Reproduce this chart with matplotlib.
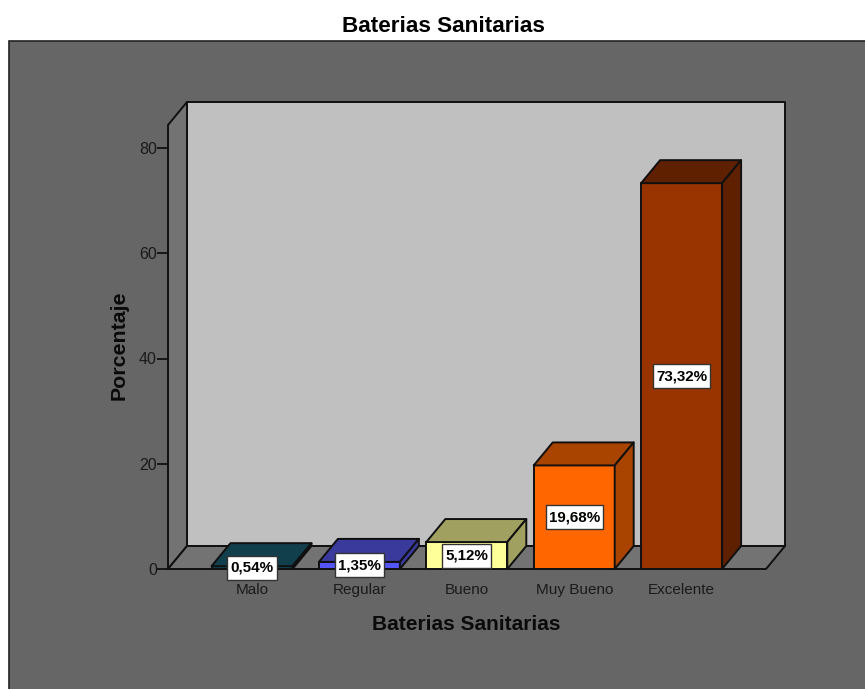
import matplotlib
matplotlib.use('Agg')
import matplotlib.pyplot as plt
from matplotlib.patches import Polygon, Rectangle
from matplotlib.path import Path

plt.rcParams['font.family'] = ['Liberation Sans', 'DejaVu Sans']

categories = ['Malo', 'Regular', 'Bueno', 'Muy Bueno', 'Excelente']
values = [0.54, 1.35, 5.12, 19.68, 73.32]
front_colors = ['#0f4452', '#5555f5', '#ffff99', '#ff6600', '#993300']
dark_colors = ['#123f4c', '#3a3a9c', '#a0a060', '#a84400', '#5f2000']
y_ticks = [0, 20, 40, 60, 80]

W, H = 865, 689
# 3d look: depth of the box in data units
DX = 19 / 107.4
DY = 23 / 5.2625
BAR_W = 81 / 107.4
EDGE = '#101010'

fig = plt.figure(figsize=(W / 100, H / 100), dpi=100, facecolor='white')
# panel runs off the right and bottom edges, so no border shows there
fig.patches.append(Rectangle((9 / W, -0.02), 1, (H - 41) / H + 0.02, transform=fig.transFigure,
                             facecolor='#666666', edgecolor='#222222', lw=1.2, zorder=-1))

# axes box runs from the front-left corner to the back-right corner
left, right, top, bottom = 168, 785, 102, 569
ax = fig.add_axes([left / W, (H - bottom) / H, (right - left) / W, (bottom - top) / H])
ax.patch.set_visible(False)
for s in ax.spines.values():
    s.set_visible(False)
ax.set_xlim((left - 252) / 107.4, (right - 252) / 107.4)
ax.set_ylim(0, (bottom - top) / 5.2625)
x0, x1 = ax.get_xlim()
y1 = ax.get_ylim()[1]
front_right = x1 - DX


def poly(pts, fc, z=1):
    ax.add_patch(Polygon(pts, closed=True, facecolor=fc, edgecolor=EDGE, lw=1.4,
                         joinstyle='round', zorder=z, clip_on=False))


# value boxes are taller than a square pad allows
def label_box(x, y, w, h, mutation_size):
    px, py = 3, 5
    return Path([(x - px, y - py), (x + w + px, y - py), (x + w + px, y + h + py),
                 (x - px, y + h + py), (x - px, y - py)], closed=True)


# walls and floor
poly([(x0 + DX, DY), (x1, DY), (x1, y1), (x0 + DX, y1)], '#c0c0c0')
poly([(x0, 0), (x0 + DX, DY), (x0 + DX, y1), (x0, y1 - DY)], '#737373')
poly([(x0, 0), (front_right, 0), (x1, DY), (x0 + DX, DY)], '#737373')

# bars
for i, v in enumerate(values):
    a, b = i - BAR_W / 2, i + BAR_W / 2
    ax.bar(i, v, BAR_W, color=front_colors[i], edgecolor=EDGE, lw=1.4, zorder=3, clip_on=False)
    poly([(a, v), (b, v), (b + DX, v + DY), (a + DX, v + DY)], dark_colors[i], 3)
    poly([(b, 0), (b + DX, DY), (b + DX, v + DY), (b, v)], dark_colors[i], 3)
    ax.text(i, v / 2, f'{v:.2f}%'.replace('.', ','), ha='center', va='center', fontsize=10.9,
            fontweight='bold', color='black', zorder=6, clip_on=False,
            bbox=dict(boxstyle=label_box, facecolor='white', edgecolor='#333333', lw=1))

ax.set_xticks(range(len(categories)), categories)
ax.set_yticks(y_ticks)
ax.tick_params(axis='x', length=0, pad=10, labelsize=11, labelcolor='#1a1a1a')
ax.tick_params(axis='y', length=8, width=1.3, color=EDGE, pad=0, labelsize=11.5, labelcolor='#1a1a1a')

fig.text(443 / W, 1 - 26 / H, 'Baterias Sanitarias', ha='center', va='center',
         fontsize=16.2, fontweight='bold', color='black')
fig.text(466 / W, 1 - 624 / H, 'Baterias Sanitarias', ha='center', va='center',
         fontsize=15, fontweight='bold', color='#0a0a0a')
fig.text(119 / W, 1 - 345 / H, 'Porcentaje', ha='center', va='center', rotation=90,
         fontsize=15.4, fontweight='bold', color='#0a0a0a')

fig.savefig('out.png', dpi=100)
